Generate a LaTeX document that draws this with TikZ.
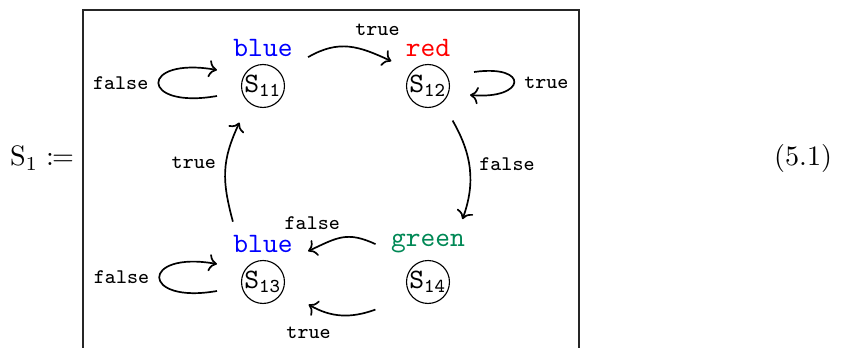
\documentclass[tikz,border=0pt]{standalone}
\usepackage{xcolor}
\usepackage{amsmath}
\usepackage{mathtools}
\usepackage{tikz}
\usetikzlibrary{
  arrows,
  arrows.meta,
  calc,
  positioning
}
\definecolor{stgreen}{RGB}{0,136,85}
\tikzset{
  state/.style = {draw, circle, inner sep=0pt, minimum size=0.525cm},
  stlabel/.style = {inner sep=0pt, font=\ttfamily},
  trans/.style = {->, line width=0.6pt},
  cond/.style = {font=\ttfamily\fontsize{7.4}{9}\selectfont},
}

\begin{document}
\begin{tikzpicture}[x=0.0125cm, y=0.0125cm]
				\useasboundingbox (0,0) rectangle (848,348);
				\draw[black!85] (83,0) |- (579,338) -- (579,0);
				
				\node[anchor=base] (lhs) at (42,182) {$\mathrm{S}_1 \coloneqq$};
				\node[anchor=base east] (eqno) at (842,182) {(5.1)};
				
				\node[state] (s11) at (263,262) {$\texttt{S}_{\texttt{11}}$};
				\node[state] (s12) at (428,262) {$\texttt{S}_{\texttt{12}}$};
				\node[state] (s13) at (263,66) {$\texttt{S}_{\texttt{13}}$};
				\node[state] (s14) at (428,66) {$\texttt{S}_{\texttt{14}}$};
				
				\node[stlabel, blue, above=0.085cm of s11] (c11) {blue};
				\node[stlabel, red, above=0.085cm of s12] (c12) {red};
				\node[stlabel, blue, above=0.085cm of s13] (c13) {blue};
				\node[stlabel, stgreen, above=0.085cm of s14] (c14) {green};
				
				\draw[trans] ([shift={(-24,-10)}]s11.west) to[out=190, in=170, looseness=7.8]
				node[cond, left] {false} ([shift={(-24,16)}]s11.west);
				\draw[trans] ([shift={(-24,-9)}]s13.west) to[out=190, in=170, looseness=7.4]
				node[cond, left] {false} ([shift={(-24,18)}]s13.west);
				\draw[trans] ([shift={(24,14)}]s12.east) to[out=8, in=-5, looseness=6.2]
				node[cond, right] {true} ([shift={(20,-9)}]s12.east);
				
				\draw[trans] ([shift={(15,0)}]c11.south east) to[out=30, in=155, looseness=1.1]
				node[cond, pos=0.85, above=3.3pt] {true} ([shift={(-14,-4)}]c12.south west);
				\draw[trans] ([shift={(9,-19)}]s12.south east) to[out=-60, in=70]
				node[cond, pos=0.45, right] {false} ([shift={(-3,14)}]c14.north east);
				\draw[trans] ([shift={(-15,9)}]c14.south west) to[out=155, in=25, looseness=1.2]
				node[cond, pos=0.95, above=3.5pt] {false} ([shift={(15,2)}]c13.south east);
				\draw[trans] ([shift={(-37,-12)}]s14.south west) to[out=200, in=-30]
				node[cond, pos=1, below=4.3pt] {true} ([shift={(30,-7)}]s13.south east);
				\draw[trans] ([shift={(0,13)}]c13.north west) to[out=105, in=-115, looseness=1.1]
				node[cond, pos=0.6, left] {true} ([shift={(-8,-21)}]s11.south west);
		\end{tikzpicture}
\end{document}
